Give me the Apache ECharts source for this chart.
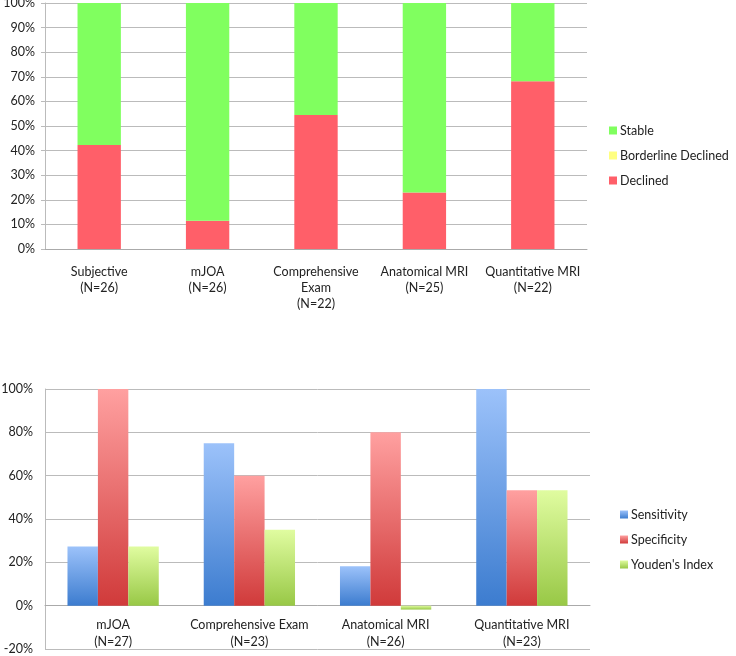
<!DOCTYPE html>
<html><head><meta charset="utf-8">
<script src="https://cdn.jsdelivr.net/npm/echarts@6/dist/echarts.min.js"></script>
<style>html,body{margin:0;padding:0;background:#fff}#c{width:736px;height:656px}</style>
</head><body><div id="c"></div>
<script>
const topCategories = ["Subjective\n(N=26)", "mJOA\n(N=26)", "Comprehensive\nExam\n(N=22)", "Anatomical MRI\n(N=25)", "Quantitative MRI\n(N=22)"];
const declined = [42.3, 11.5, 54.5, 23, 68.2];
const borderline = [0, 0, 0, 0, 0];
const stable = [57.7, 88.5, 45.5, 77, 31.8];
const topTicks = [0, 10, 20, 30, 40, 50, 60, 70, 80, 90, 100];

const botCategories = ["mJOA\n(N=27)", "Comprehensive Exam\n(N=23)", "Anatomical MRI\n(N=26)", "Quantitative MRI\n(N=23)"];
const sensitivity = [27.3, 75, 18.2, 100];
const specificity = [100, 60, 80, 53.3];
const youden = [27.3, 35, -1.8, 53.3];
const botTicks = [-20, 0, 20, 40, 60, 80, 100];

const FONT = 'Lato, "Open Sans", sans-serif';
const grad = (a, b) => new echarts.graphic.LinearGradient(0, 0, 0, 1, [{offset: 0, color: a}, {offset: 1, color: b}]);
const chart = echarts.init(document.getElementById('c'));
const axLbl = {color: '#222', fontFamily: FONT, fontSize: 12.5};
chart.setOption({
  animation: false,
  textStyle: {fontFamily: FONT},
  grid: [
    {left: 45, top: 3, width: 542, height: 246, outerBoundsMode: 'none', containLabel: false},
    {left: 45, top: 389, width: 545, height: 260, outerBoundsMode: 'none', containLabel: false}
  ],
  legend: [
    {orient: 'vertical', left: 604, top: 119, itemWidth: 8, itemHeight: 8, itemGap: 12, icon: 'rect',
     textStyle: {fontFamily: FONT, fontSize: 12.5, color: '#222', padding: [0, 0, 0, -2]},
     data: ['Stable', 'Borderline Declined', 'Declined']},
    {orient: 'vertical', left: 615, top: 503, itemWidth: 8, itemHeight: 8, itemGap: 12, icon: 'rect',
     textStyle: {fontFamily: FONT, fontSize: 12.5, color: '#222', padding: [0, 0, 0, -2]},
     data: ['Sensitivity', 'Specificity', "Youden's Index"]}
  ],
  xAxis: [
    {type: 'category', gridIndex: 0, data: topCategories,
     axisLine: {lineStyle: {color: '#aaa'}}, axisTick: {length: 4, lineStyle: {color: '#aaa'}},
     axisLabel: Object.assign({interval: 0, margin: 15, lineHeight: 16}, axLbl)},
    {type: 'category', gridIndex: 1, data: botCategories,
     axisLine: {onZero: true, lineStyle: {color: '#aaa'}}, axisTick: {length: 4, lineStyle: {color: '#aaa'}},
     axisLabel: {show: false}},
    {type: 'category', gridIndex: 1, data: botCategories, position: 'bottom',
     axisLine: {show: false, onZero: false}, axisTick: {show: false},
     axisLabel: Object.assign({interval: 0, margin: -33, lineHeight: 17, hideOverlap: false}, axLbl)}
  ],
  yAxis: [
    {type: 'value', gridIndex: 0, min: topTicks[0], max: topTicks[topTicks.length - 1], interval: 10,
     axisLine: {show: true, lineStyle: {color: '#bbb'}}, axisTick: {show: true, length: 4, lineStyle: {color: '#bbb'}},
     splitLine: {lineStyle: {color: '#bbb'}},
     axisLabel: Object.assign({formatter: '{value}%', margin: 10}, axLbl)},
    {type: 'value', gridIndex: 1, min: botTicks[0], max: botTicks[botTicks.length - 1], interval: 20,
     axisLine: {show: true, lineStyle: {color: '#bbb'}}, axisTick: {show: false},
     splitLine: {lineStyle: {color: '#bbb'}},
     axisLabel: Object.assign({formatter: '{value}%', margin: 12}, axLbl)}
  ],
  series: [
    {name: 'Declined', type: 'bar', stack: 't', xAxisIndex: 0, yAxisIndex: 0, data: declined, barWidth: '40%', itemStyle: {color: '#FF5F69'}},
    {name: 'Borderline Declined', type: 'bar', stack: 't', xAxisIndex: 0, yAxisIndex: 0, data: borderline, itemStyle: {color: '#FFFF80'}},
    {name: 'Stable', type: 'bar', stack: 't', xAxisIndex: 0, yAxisIndex: 0, data: stable, itemStyle: {color: '#80FF5F'}},
    {name: 'Sensitivity', type: 'bar', xAxisIndex: 1, yAxisIndex: 1, data: sensitivity, barGap: '0%', barCategoryGap: '33%',
     itemStyle: {color: grad('#9CC2FA', '#3C7CCF')}},
    {name: 'Specificity', type: 'bar', xAxisIndex: 1, yAxisIndex: 1, data: specificity, barGap: '0%', barCategoryGap: '33%',
     itemStyle: {color: grad('#FFA0A0', '#D03A3A')}},
    {name: "Youden's Index", type: 'bar', xAxisIndex: 1, yAxisIndex: 1, data: youden, barGap: '0%', barCategoryGap: '33%',
     itemStyle: {color: grad('#E0FCA0', '#98C846')}}
  ]
});
</script></body></html>
